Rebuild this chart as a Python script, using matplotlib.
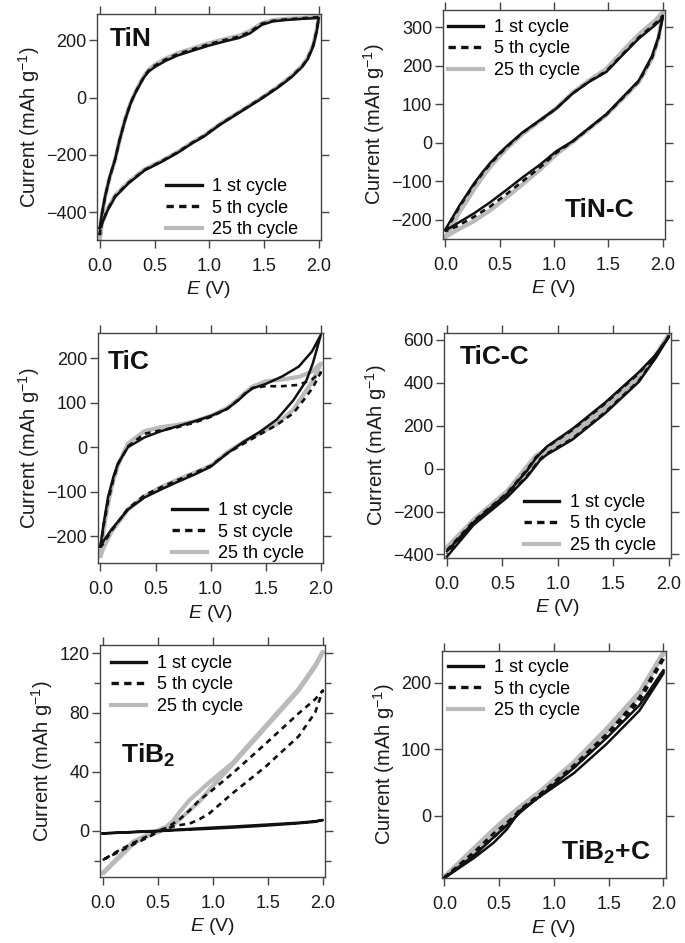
import matplotlib
matplotlib.use("Agg")
import matplotlib.pyplot as plt
from matplotlib.lines import Line2D
from matplotlib.ticker import MultipleLocator, FormatStrFormatter

plt.rcParams["font.family"] = ["Liberation Sans", "DejaVu Sans"]
plt.rcParams["mathtext.fontset"] = "custom"
plt.rcParams["mathtext.rm"] = "Liberation Sans"
plt.rcParams["mathtext.it"] = "Liberation Sans:italic"
plt.rcParams["mathtext.bf"] = "Liberation Sans:bold"

# ---- data: E (V) grids and current (mAh g-1) per cycle ----
# TiN
tin_e_up = [0.0, 0.02, 0.05, 0.09, 0.14, 0.18, 0.23, 0.28, 0.32, 0.37, 0.41, 0.45, 0.50, 0.60,
            0.71, 0.85, 1.0, 1.15, 1.27, 1.37, 1.48, 1.58, 1.70, 1.85, 2.0]
tin_up_1 = [-455, -405, -343, -278, -216, -150, -80, -22, 12, 48, 74, 92, 106, 128,
            147, 164, 182, 197, 208, 224, 254, 266, 271, 275, 278]
tin_up_5 = [-480, -408, -344, -279, -216, -150, -79, -21, 14, 50, 77, 96, 111, 133,
            152, 169, 187, 202, 213, 229, 258, 268, 273, 277, 281]
tin_up_25 = [-495, -410, -345, -280, -217, -150, -78, -20, 15, 52, 79, 98, 114, 136,
             155, 172, 190, 205, 216, 232, 260, 270, 275, 278, 282]
tin_e_down = [2.0, 1.98, 1.95, 1.90, 1.85, 1.75, 1.63, 1.48, 1.30, 1.10, 0.95, 0.85, 0.71,
              0.56, 0.41, 0.26, 0.14, 0.07, 0.02, 0.0]
tin_down_1 = [278, 230, 180, 135, 108, 71, 36, -3, -46, -94, -136, -158, -193,
              -225, -254, -300, -347, -395, -440, -455]
tin_down_5 = [281, 233, 183, 138, 110, 73, 38, -1, -45, -93, -134, -156, -191,
              -223, -252, -298, -344, -392, -439, -480]
tin_down_25 = [282, 235, 185, 140, 112, 75, 39, 0, -44, -92, -133, -155, -190,
               -222, -250, -296, -342, -390, -438, -495]

# TiN-C
tinc_e_up = [0.0, 0.07, 0.13, 0.20, 0.26, 0.34, 0.41, 0.49, 0.56, 0.71, 0.87, 1.02, 1.17, 1.32,
             1.48, 1.63, 1.78, 1.93, 2.0]
tinc_up_1 = [-225, -192, -163, -133, -107, -77, -53, -29, -10, 27, 59, 89, 128, 158,
             184, 228, 271, 306, 325]
tinc_up_5 = [-230, -196, -166, -136, -110, -80, -56, -32, -12, 26, 58, 89, 128, 159,
             186, 230, 274, 310, 330]
tinc_up_25 = [-245, -212, -180, -150, -122, -90, -63, -38, -16, 23, 57, 90, 130, 162,
              192, 238, 282, 318, 340]
tinc_e_down = [2.0, 1.96, 1.90, 1.78, 1.63, 1.48, 1.32, 1.17, 1.02, 0.87, 0.71, 0.56, 0.41,
               0.26, 0.10, 0.0]
tinc_down_1 = [325, 275, 225, 162, 118, 74, 38, 4, -22, -57, -90, -123, -155, -184, -211, -228]
tinc_down_5 = [330, 272, 220, 160, 116, 73, 37, 3, -26, -64, -100, -134, -166, -193, -218, -230]
tinc_down_25 = [340, 271, 219, 158, 115, 72, 36, 2, -30, -70, -108, -143, -176, -204, -228, -245]

# TiC
tic_e_up = [0.0, 0.03, 0.07, 0.12, 0.16, 0.25, 0.40, 0.55, 0.70, 0.85, 1.0, 1.15, 1.25,
            1.32, 1.38, 1.50, 1.65, 1.80, 1.92, 2.0]
tic_up_1 = [-223, -170, -111, -65, -36, 0, 22, 36, 47, 58, 70, 86, 105,
            121, 132, 142, 159, 181, 215, 252]
tic_up_5 = [-225, -175, -120, -70, -38, 2, 30, 38, 45, 55, 68, 86, 106,
            122, 133, 137, 137, 140, 152, 168]
tic_up_25 = [-245, -185, -125, -72, -40, 8, 36, 45, 50, 58, 70, 88, 108,
             124, 136, 148, 152, 158, 170, 188]
tic_e_down = [2.0, 1.93, 1.87, 1.75, 1.60, 1.45, 1.30, 1.15, 1.0, 0.85, 0.70, 0.55, 0.40,
              0.25, 0.10, 0.03, 0.0]
tic_down_1 = [252, 190, 150, 105, 62, 35, 12, -14, -44, -62, -78, -95, -113, -140, -185, -210, -223]
tic_down_5 = [168, 135, 114, 76, 50, 29, 8, -14, -42, -58, -74, -90, -108, -138, -188, -215, -225]
tic_down_25 = [188, 150, 128, 84, 52, 32, 12, -12, -42, -58, -73, -90, -110, -140, -190, -225, -245]

# TiC-C
ticc_e_up = [0.0, 0.24, 0.54, 0.72, 0.80, 0.90, 1.13, 1.43, 1.73, 1.88, 2.0]
ticc_up_1 = [-385, -250, -118, -10, 48, 103, 185, 310, 450, 530, 615]
ticc_up_5 = [-380, -245, -115, -5, 52, 100, 180, 305, 445, 528, 618]
ticc_up_25 = [-365, -238, -105, 10, 60, 92, 170, 292, 430, 520, 625]
ticc_e_down = [2.0, 1.88, 1.73, 1.43, 1.13, 0.90, 0.84, 0.72, 0.54, 0.24, 0.0]
ticc_down_1 = [615, 515, 405, 260, 135, 65, 40, -40, -135, -262, -410]
ticc_down_5 = [618, 520, 410, 265, 140, 70, 45, -35, -130, -255, -400]
ticc_down_25 = [625, 528, 418, 278, 150, 82, 62, -20, -120, -248, -375]

# TiB2
tib_e_up = [0.0, 0.15, 0.28, 0.42, 0.49, 0.58, 0.64, 0.70, 0.79, 0.88, 0.97, 1.18, 1.48,
            1.78, 1.93, 2.0]
tib_up_1 = [-1.6, -1.2, -0.8, -0.4, -0.2, 0.2, 0.4, 0.6, 0.9, 1.2, 1.5, 2.3, 3.6, 5.2, 6.2, 7.4]
tib_up_5 = [-19.6, -14, -9, -4, -1, 1.5, 3, 4, 5, 8, 12, 25.5, 43.5, 64, 80, 95]
tib_up_25 = [-28.6, -18, -8.3, -3, -1, 1.8, 4, 8, 14, 20, 28, 45, 70, 95, 111, 121]
tib_e_down = [2.0, 1.93, 1.78, 1.48, 1.18, 0.97, 0.88, 0.79, 0.70, 0.64, 0.58, 0.49, 0.42,
              0.28, 0.15, 0.0]
tib_down_1 = [7.4, 6.6, 5.6, 4.3, 3.0, 2.2, 1.8, 1.4, 1.0, 0.8, 0.5, 0.1, -0.1, -0.6, -1.1, -1.6]
tib_down_5 = [95, 89, 79.5, 59, 39, 26, 21, 14, 8, 5, 2, 0, -3, -8, -13, -19.6]
tib_down_25 = [121, 112, 96, 71, 46, 33, 27, 21, 13, 7, 3, 0, -2, -7, -17, -28.6]

# TiB2+C
tibc_e_up = [0.0, 0.27, 0.45, 0.57, 0.69, 0.88, 1.18, 1.48, 1.78, 2.0]
tibc_up_1 = [-93, -63, -40, -20, 8, 30, 64, 108, 158, 214]
tibc_up_5 = [-92, -58, -32, -14, 10, 33, 72, 118, 172, 235]
tibc_up_25 = [-91, -52, -28, -10, 12, 36, 77, 126, 181, 243]
tibc_e_down = [2.0, 1.78, 1.48, 1.18, 0.88, 0.69, 0.57, 0.45, 0.27, 0.0]
tibc_down_1 = [219, 166, 117, 72, 31, 5, -14, -32, -59, -93]
tibc_down_5 = [239, 178, 123, 76, 34, 8, -10, -26, -54, -92]
tibc_down_25 = [246, 186, 131, 81, 38, 14, -2, -20, -48, -91]

cycle_labels = ["1 st cycle", "5 th cycle", "25 th cycle"]
tic_cycle_labels = ["1 st cycle", "5 st cycle", "25 th cycle"]

panels = [
    dict(name="TiN", rect=[0.1416, 0.7455, 0.327, 0.2397], ylim=(-497, 292), major=200, minor=None,
         e=(tin_e_up, tin_e_down), c1=(tin_up_1, tin_down_1), c5=(tin_up_5, tin_down_5),
         c25=(tin_up_25, tin_down_25), labels=cycle_labels,
         tpos=(0.055, 0.89), tha="left", leg=(0.31, 0.274)),
    dict(name="TiN-C", rect=[0.6463, 0.7466, 0.3245, 0.2428], ylim=(-250, 345), major=100, minor=None,
         e=(tinc_e_up, tinc_e_down), c1=(tinc_up_1, tinc_down_1), c5=(tinc_up_5, tinc_down_5),
         c25=(tinc_up_25, tinc_down_25), labels=cycle_labels,
         tpos=(0.86, 0.127), tha="right", leg=(0.022, 0.961)),
    dict(name="TiC", rect=[0.1426, 0.4026, 0.3289, 0.2445], ylim=(-261, 257), major=100, minor=None,
         e=(tic_e_up, tic_e_down), c1=(tic_up_1, tic_down_1), c5=(tic_up_5, tic_down_5),
         c25=(tic_up_25, tic_down_25), labels=tic_cycle_labels,
         tpos=(0.045, 0.873), tha="left", leg=(0.33, 0.266)),
    dict(name="TiC-C", rect=[0.6486, 0.4080, 0.331, 0.2392], ylim=(-418, 634), major=200, minor=None,
         e=(ticc_e_up, ticc_e_down), c1=(ticc_up_1, ticc_down_1), c5=(ticc_up_5, ticc_down_5),
         c25=(ticc_up_25, ticc_down_25), labels=cycle_labels,
         tpos=(0.068, 0.892), tha="left", leg=(0.35, 0.285)),
    dict(name=r"TiB$_\mathbf{2}$", rect=[0.146, 0.0703, 0.3285, 0.2457], ylim=(-30.9, 125.7), major=40, minor=20,
         e=(tib_e_up, tib_e_down), c1=(tib_up_1, tib_down_1), c5=(tib_up_5, tib_down_5),
         c25=(tib_up_25, tib_down_25), labels=cycle_labels,
         tpos=(0.095, 0.525), tha="left", leg=(0.049, 0.957)),
    dict(name=r"TiB$_\mathbf{2}$+C", rect=[0.6448, 0.0686, 0.327, 0.2414], ylim=(-93.5, 248), major=100, minor=None,
         e=(tibc_e_up, tibc_e_down), c1=(tibc_up_1, tibc_down_1), c5=(tibc_up_5, tibc_down_5),
         c25=(tibc_up_25, tibc_down_25), labels=cycle_labels,
         tpos=(0.93, 0.116), tha="right", leg=(0.028, 0.963)),
]

black = "#111111"
grey = "#bababa"
spine = "#444444"
txt = "#1a1a1a"

fig = plt.figure(figsize=(6.85, 9.43), dpi=100)

for p in panels:
    ax = fig.add_axes(p["rect"])
    e_up, e_down = p["e"]
    # 25th underneath, 1st and 5th drawn over it
    ax.plot(e_up + e_down, p["c25"][0] + p["c25"][1], color=grey, lw=3.0,
            solid_capstyle="round", solid_joinstyle="round", zorder=2)
    ax.plot(e_up + e_down, p["c1"][0] + p["c1"][1], color=black, lw=1.8,
            solid_joinstyle="round", zorder=3)
    ax.plot(e_up + e_down, p["c5"][0] + p["c5"][1], color=black, lw=1.9, ls=(0, (2.2, 1.8)), zorder=4)

    ax.set_xlim(-0.025, 2.02)
    ax.set_ylim(*p["ylim"])
    ax.xaxis.set_major_locator(MultipleLocator(0.5))
    ax.xaxis.set_major_formatter(FormatStrFormatter("%.1f"))
    ax.yaxis.set_major_locator(MultipleLocator(p["major"]))
    if p["minor"]:
        ax.yaxis.set_minor_locator(MultipleLocator(p["minor"]))
    ax.tick_params(which="both", direction="out", top=True, right=True, color=spine, width=1.0,
                   labelsize=13, labelcolor=txt)
    ax.tick_params(which="major", length=6)
    ax.tick_params(which="minor", length=4.5)
    ax.tick_params(axis="x", pad=7)
    ax.tick_params(axis="y", pad=1.5)
    for s in ax.spines.values():
        s.set_color(spine)
        s.set_linewidth(1.0)

    ax.set_xlabel(r"$\it{E}$ (V)", fontsize=14, color=txt, labelpad=3)
    ax.set_ylabel(r"Current (mAh g$^{-1}$)", fontsize=14.5, color=txt, labelpad=3)

    ax.text(p["tpos"][0], p["tpos"][1], p["name"], transform=ax.transAxes, fontsize=19,
            fontweight="bold", ha=p["tha"], va="center", color=black)

    handles = [Line2D([], [], color=black, lw=2.4),
               Line2D([], [], color=black, lw=2.4, ls=(0, (2.2, 1.6))),
               Line2D([], [], color=grey, lw=3.0)]
    ax.legend(handles, p["labels"], loc="upper left", bbox_to_anchor=p["leg"], frameon=False,
              fontsize=13, handlelength=1.95, handletextpad=0.6, labelspacing=0.25,
              borderpad=0, borderaxespad=0)

fig.savefig("out.png", dpi=100)
